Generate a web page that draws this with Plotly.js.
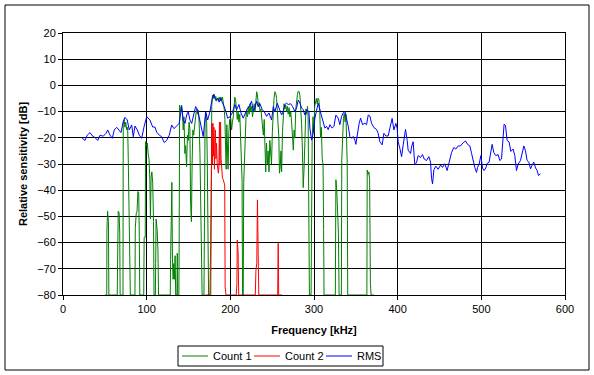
<!DOCTYPE html>
<html>
<head>
<meta charset="utf-8">
<script src="https://cdn.plot.ly/plotly-3.0.1.min.js"></script>
<style>
html,body{margin:0;padding:0;background:#fff;}
#chart{width:594px;height:375px;}
</style>
</head>
<body>
<div id="chart"></div>
<script>
// ---- Data ----
var count1Freq = [50,52.3,52.5,53.3,54.3,54.8,64.8,65.2,66,67,67.8,68.3,71.7,72,73,74,75,76.2,77.3,78,78.9,79.8,80.5,
 86,86.4,87.5,88.5,89.5,90.5,91.2,91.8,96.5,97,98.3,98.6,99.8,100.8,101.8,102.8,103.8,104.5,105.3,106.2,107.2,108.2,108.8,
 110.4,110.8,111.3,112.5,113.5,114.2,128.2,128.6,129.2,130.1,130.8,131.6,132.3,133.2,134,134.7,136.2,136.6,137.1,138.5,138.8,
 139.4,140.5,141.8,143,143.7,144.6,145.7,146.5,147.7,148.7,149.7,150.7,151.7,152.5,153.5,154.3,155.2,156.2,157.2,158.5,159.7,
 160.7,161.7,162.7,163.7,164.7,165.5,166.3,168.5,169,169.8,170.7,171.7,172.5,173.3,174,176.6,177.2,177.8,178.6,179.6,180.6,
 181.6,182.6,183.6,184.6,185.6,186.6,187.6,188.6,189.6,190.6,191.6,192.7,193.5,194.3,195,195.8,196.5,197.3,198.2,199.2,200.5,
 201.5,202.5,203.5,204.5,205.3,206.3,207.3,208.3,209.3,210.3,211.3,212.3,213.2,214,214.6,215.4,216,217,218,219,220.5,221.5,
 222.5,223.5,224.5,225.5,226.5,227.5,228.5,229.5,230.5,231.5,232.5,233.5,234.5,235.5,236.5,237.5,238.5,239.5,240.5,241.3,
 242.3,243.2,244.2,245.2,246.2,247.2,248.2,249.2,250.2,251.2,252.2,253.3,254.3,255.3,256.2,257.2,258,258.7,259.7,260.5,261.3,
 262.3,263.2,264.2,265.2,266.2,267.2,268.2,269.2,270.2,271.2,272.2,273.2,274.4,275.3,276.2,277.2,278.2,279.2,280.2,281.2,
 282.3,283.2,284.2,285.2,286.2,287.1,288.1,289.1,290.3,291.2,292.2,293,293.7,294.5,296.5,297,297.8,298.8,299.8,300.8,301.8,
 302.8,303.8,304.8,305.8,306.8,307.8,308.8,309.8,310.8,311.5,312,325.5,326.2,327.2,328.2,329.2,330,332.7,333.2,334.2,335.2,
 336.2,337.2,338.2,339,339.7,340.3,363.2,363.6,364.6,365.6,366.5,367.4,368.3,372];
var count1Db = [-80,-80,-55,-48,-52,-80,-80,-55,-48,-48.5,-56,-80,-80,-15,-13,-16,-14,-17,-16,-28,-48,-74,-80,
 -80,-54.5,-49,-48,-40.5,-41,-58,-80,-80,-58,-58,-21.5,-23,-22,-26,-28,-36,-51,-35,-33,-37,-52,-80,
 -80,-68,-51,-55,-63,-80,-80,-67,-38.5,-37,-66,-74,-68,-74,-65,-80,-80,-64,-80,-80,-62,
 -7.5,-10,-7.5,-12,-17,-12,-26,-23,-31,-19,-21,-14,-17,-45,-52,-30,-17,-19,-15,-12,-9,
 -11,-9.5,-14,-26,-55,-71,-80,-80,-45,-14,-10.5,-14,-30,-60,-80,-80,-30,-8,-3.7,-5,-3.5,
 -5,-4.2,-6,-4.8,-5.5,-4.5,-6,-4.4,-5.5,-4.5,-6,-9,-13,-22,-32,-15,-25,-32,-18,-13,-12.5,
 -17,-14,-12,-8,-4.5,-5.5,-9,-13,-10,-14,-11,-20,-28,-36,-80,-80,-37,-27,-14,-10,-12,-8,
 -11,-7,-10,-8,-12,-9,-7,-10,-5,-2.4,-4,-8,-6.5,-10,-9,-12,-15,-19,-13,-21,
 -33,-22,-30,-25,-33,-21,-26,-30,-18,-9,-5,-2.4,-3,-5,-9,-14,-20,-33.5,-31,-25,-33,
 -18,-9,-7,-9,-7.5,-10,-8,-11,-8.5,-12,-10,-14,-22,-24.7,-17,-20,-9,-5,-3.5,-2.2,
 -2.4,-4,-8,-15,-25,-39,-32,-18,-9,-11,-8,-12,-40,-80,-80,-45,-21,-12,-18,-8,-6,
 -5,-7,-4.9,-5.5,-9,-20,-16,-28,-30,-55,-80,-80,-36,-40,-48,-56.5,-80,-80,-28.5,-20,-12.6,
 -10.7,-14,-11,-20,-30,-80,-80,-32.3,-34,-33,-36,-75.5,-80,-80];

var count2Freq = [170,175.6,176.5,177.3,178,178.6,179.2,179.8,180.4,181,181.6,182.2,182.8,183.5,184.3,185,185.7,186.3,
 187,187.6,188.3,188.9,189.6,190.5,191.5,192.5,193.3,193.8,194.8,207,207.8,208.3,209.3,210,229.8,230.6,231.6,232.4,233.2,
 234,235.2,256.6,257.2,257.8,262];
var count2Db = [-80,-80,-61,-15,-14.5,-30,-14.5,-27,-16,-32,-22,-17,-28,-22,-30,-32,-33.5,-31,
 -14,-30,-14,-28,-33.5,-35,-36,-37.5,-38,-77,-80,-80,-76,-59,-64,-80,-80,-70.5,-67.9,-43.7,-73.9,
 -80,-80,-80,-60.3,-80,-80];

var rmsFreq = [23,26.3,29,32.3,35.5,38.2,41.5,44.2,48.1,51.4,53.4,56.2,58.9,61.3,64.2,66.9,69.3,72,74.1,76.8,79.2,82.1,84,86,
 88.8,91.2,94,96.8,100,103.9,107.2,109.9,111.9,115.1,117.9,121,123.9,127,129.9,132.6,135.8,138.9,141.8,143.7,145.8,147.8,
 149.7,151.7,153.8,155.7,158.5,160.9,163.7,165.7,167.6,168.8,170.5,172.9,175.6,178.4,180.4,182.4,184.8,186.7,188.8,190.8,
 192.7,194.7,196.8,199.5,202.3,205.5,207.5,210.3,212.7,215.4,218.3,220.7,222.6,225.4,227.4,229.4,231.4,233.3,235.4,238.1,
 240.5,243.4,246.1,249.3,251.3,253.3,256.1,258.4,261.3,263.2,265.2,267.3,269.2,272,274.4,277.2,279.2,281.1,283.2,285.2,
 287.1,289.1,291.2,293.9,295.1,297.1,299,301.1,303.1,305,307,309.1,311,313,315,317,319,321.7,323.8,326.2,328.9,330.9,333,
 334.9,337,338.9,340.9,342.9,344.9,346.8,348.9,350,351.6,354,355.7,358.1,360.8,362.8,364.8,366.8,368.8,371.6,374.8,376.7,
 378.7,381.5,383.5,385.9,388.6,391.5,393.4,395.5,397.8,399.4,400.6,402.6,404.7,406.6,409.4,411.4,412.5,415.4,416.6,418.5,
 420.5,422.6,424.5,427.4,429.7,431.7,434.5,437.3,439.3,440.5,441.7,443.3,445.6,448.4,451.3,453.6,456.4,459.1,461.5,464.4,
 467.1,469.5,472.3,475.1,478.3,481.1,483.5,486.3,488.3,490.2,492.2,494.3,495.5,497.4,499.4,501.4,503.3,505.4,506.9,509.3,
 511.4,512.9,514.9,517.3,520.1,522.1,524.1,525.3,527.2,528.9,530.8,533.2,535.2,538,540,542,544,546.8,548.7,550.8,552.8,
 554.7,556.8,558.8,560.7,562.7,564.8,566.7,568.3,570.7];
var rmsDb = [-20.2,-21,-19,-18,-19.4,-19.9,-21,-19,-19.4,-18.3,-17,-19,-20.2,-17,-16,-17,-18,-13.8,-12.2,-13.2,-17,-15.1,-19.6,-15.5,
 -17,-19,-20.2,-15.9,-11.9,-13.2,-15.9,-15.9,-17.8,-19,-19.6,-21.8,-21,-19,-15.1,-16.5,-15.5,-14.5,-8.1,-13.2,-14.5,-11.3,
 -10,-13.2,-14.5,-11.3,-8.1,-9.3,-13.2,-15.8,-19.5,-15.8,-10,-13.2,-10,-5,-3.4,-5.7,-4.9,-6.4,-5,-6.9,
 -8.1,-10,-12.5,-12,-10.5,-7.3,-9.3,-7.3,-10.5,-12.5,-10.5,-8.6,-8.1,-6,-10,-8.6,-6,-8.1,-7,-9.3,
 -10,-11.8,-10.5,-13.2,-8.1,-10,-6.8,-8.6,-11.3,-10,-7.3,-6.8,-7.3,-7,-8.1,-10,-8.6,-5.6,-6.8,-8.6,
 -9.3,-11.3,-9.3,-10,-16.3,-20.9,-18.3,-12.5,-10,-6.8,-9.3,-11.8,-13.7,-16.3,-15.6,-16.9,-15,-16.3,-15.6,-11.3,-12.5,-15,-11.8,
 -10.5,-10,-12.5,-15.6,-19.5,-20.2,-19.5,-20.9,-22.5,-18.9,-14.4,-12.5,-15,-14.4,-15,-11.3,-11.7,-14.5,-16.1,-16.8,-18.3,
 -21.5,-22.7,-18.3,-19.3,-19.3,-14.5,-12.6,-17,-14.5,-16.4,-21.5,-24,-27.2,-22.7,-16.8,-21,-24.7,-26,-23.5,-21.5,
 -30.4,-29.3,-26.8,-27.5,-26.4,-28.1,-28.7,-27.2,-29.3,-35.5,-37.6,-32.2,-30.8,-32,-30.4,-31.3,-29.9,-32.5,-29.3,-25.6,
 -23.7,-24.3,-23.1,-23.1,-21.9,-21.2,-22.5,-23.1,-25.9,-28.7,-31.3,-33.2,-31.3,-30,-26.8,-31.5,-32.5,-31.5,-29.8,-29.3,
 -25.6,-22.5,-25.6,-26.8,-26.4,-28.7,-28.1,-23.1,-14.8,-15.3,-21,-21.6,-25.2,-24.3,-26.8,-32.5,-30,-28.7,-25.6,-23.1,-25,
 -28.7,-29.3,-31.8,-30.5,-29.3,-31.5,-32.5,-34.4,-33.7];

var seriesNames = ['Count 1', 'Count 2', 'RMS'];
var seriesColors = ['#008000', '#FF0000', '#0000FF'];
var xTickVals = [0,100,200,300,400,500,600];
var yTickVals = [20,10,0,-10,-20,-30,-40,-50,-60,-70,-80];

// ---- Chart ----
var FONT = 'Liberation Sans, Arial, sans-serif';
var W = 594, H = 375, ML = 63, MR = 29, MT = 33, MB = 80;
var PW = W - ML - MR, PH = H - MT - MB;
function px2x(p){ return (p - ML) / PW; }
function py2y(p){ return (H - MB - p) / PH; }

var seriesX = [count1Freq, count2Freq, rmsFreq];
var seriesY = [count1Db, count2Db, rmsDb];
var traces = seriesNames.map(function(n, i){
  return {x: seriesX[i], y: seriesY[i], name: n, type: 'scatter', mode: 'lines',
          line: {color: seriesColors[i], width: 1}};
});

var axisCommon = {
  showgrid: true, gridcolor: '#000', gridwidth: 1,
  showline: true, linecolor: '#000', linewidth: 1, mirror: true,
  ticks: 'outside', ticklen: 4, tickcolor: '#000', tickwidth: 1,
  zeroline: false, fixedrange: true,
  tickfont: {family: FONT, size: 11, color: '#000'}
};

// Legend box laid out like the original (line sample, then label)
var legendShapes = [
  {type: 'rect', xref: 'paper', yref: 'paper',
   x0: px2x(178), x1: px2x(383), y0: py2y(366), y1: py2y(346),
   line: {color: '#000', width: 1}, fillcolor: '#fff'}
];
var legendAnn = [];
var legendLineX = [182, 254, 326];
var legendTextX = [211, 283, 355];
seriesNames.forEach(function(n, i){
  legendShapes.push({type: 'line', xref: 'paper', yref: 'paper',
    x0: px2x(legendLineX[i]), x1: px2x(legendLineX[i] + 26), y0: py2y(356), y1: py2y(356),
    line: {color: seriesColors[i], width: 1}});
  legendAnn.push({xref: 'paper', yref: 'paper', x: px2x(legendTextX[i]), y: py2y(356),
    xanchor: 'left', yanchor: 'middle', showarrow: false, text: n,
    font: {family: FONT, size: 11, color: '#000'}});
});

var layout = {
  width: W, height: H,
  margin: {l: ML, r: MR, t: MT, b: MB, pad: 0},
  paper_bgcolor: '#fff', plot_bgcolor: '#fff',
  font: {family: FONT, size: 11, color: '#000'},
  showlegend: false,
  xaxis: Object.assign({}, axisCommon, {
    range: [0, 600], tickmode: 'array', tickvals: xTickVals,
    title: {text: 'Frequency [kHz]', font: {family: FONT, size: 11, color: '#000', weight: 'bold'}, standoff: 12}
  }),
  yaxis: Object.assign({}, axisCommon, {
    range: [-80, 20], tickmode: 'array', tickvals: yTickVals,
    title: {text: 'Relative sensitivity [dB]', font: {family: FONT, size: 11, color: '#000', weight: 'bold'}, standoff: 7}
  }),
  shapes: [
    {type: 'rect', xref: 'paper', yref: 'paper', layer: 'below',
     x0: px2x(5), x1: px2x(589), y0: py2y(370), y1: py2y(5),
     line: {color: '#000', width: 1}, fillcolor: 'rgba(0,0,0,0)'}
  ].concat(legendShapes),
  annotations: legendAnn
};

Plotly.newPlot('chart', traces, layout, {displayModeBar: false, staticPlot: true});
</script>
</body>
</html>
